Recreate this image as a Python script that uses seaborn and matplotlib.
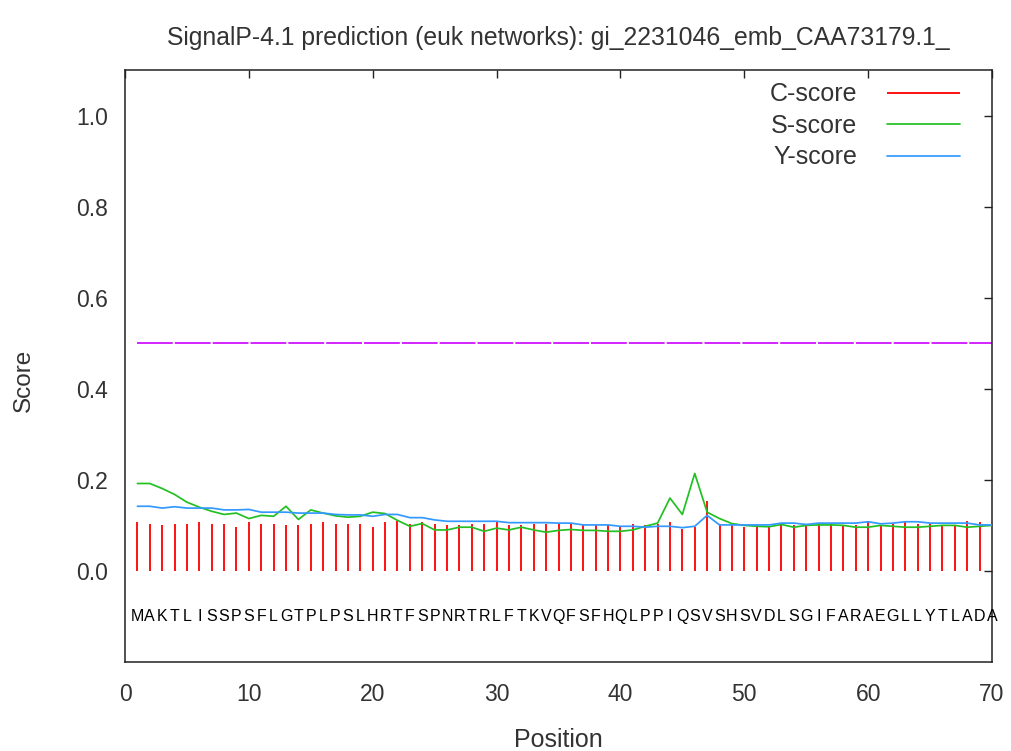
import matplotlib
matplotlib.use("Agg")
import matplotlib.pyplot as plt
import seaborn as sns
import pandas as pd
import numpy as np
from matplotlib import font_manager

# ---------------- data ----------------
sequence = list("MAKTLISSPSFLGTPLPSLHRTFSPNRTRLFTKVQFSFHQLPPIQSVSHSVDLSGIFARAEGLLYTLADA")
positions = list(range(1, 71))

c_score = [0.107, 0.103, 0.100, 0.103, 0.103, 0.107, 0.103, 0.103, 0.096, 0.107,
           0.103, 0.103, 0.100, 0.100, 0.103, 0.107, 0.103, 0.103, 0.103, 0.096,
           0.107, 0.110, 0.103, 0.107, 0.103, 0.100, 0.100, 0.103, 0.103, 0.110,
           0.100, 0.100, 0.103, 0.103, 0.103, 0.103, 0.100, 0.100, 0.100, 0.096,
           0.103, 0.100, 0.103, 0.107, 0.093, 0.096, 0.153, 0.103, 0.100, 0.096,
           0.100, 0.096, 0.103, 0.100, 0.100, 0.103, 0.103, 0.100, 0.100, 0.107,
           0.100, 0.103, 0.107, 0.103, 0.103, 0.100, 0.100, 0.110, 0.107]

s_score = [0.192, 0.192, 0.181, 0.168, 0.151, 0.140, 0.131, 0.124, 0.127, 0.115,
           0.122, 0.120, 0.142, 0.113, 0.134, 0.127, 0.121, 0.118, 0.120, 0.129,
           0.126, 0.111, 0.098, 0.104, 0.090, 0.090, 0.096, 0.096, 0.087, 0.094,
           0.090, 0.096, 0.090, 0.085, 0.089, 0.091, 0.089, 0.089, 0.087, 0.087,
           0.090, 0.098, 0.105, 0.160, 0.124, 0.214, 0.129, 0.115, 0.104, 0.100,
           0.098, 0.097, 0.102, 0.096, 0.100, 0.101, 0.101, 0.100, 0.096, 0.096,
           0.100, 0.098, 0.096, 0.096, 0.098, 0.100, 0.100, 0.096, 0.098, 0.100]

y_score = [0.142, 0.142, 0.138, 0.141, 0.138, 0.138, 0.138, 0.134, 0.134, 0.135,
           0.129, 0.129, 0.129, 0.127, 0.127, 0.127, 0.124, 0.123, 0.123, 0.120,
           0.124, 0.124, 0.117, 0.117, 0.112, 0.109, 0.109, 0.109, 0.109, 0.109,
           0.106, 0.106, 0.106, 0.106, 0.105, 0.105, 0.101, 0.101, 0.101, 0.098,
           0.098, 0.096, 0.098, 0.098, 0.095, 0.098, 0.122, 0.101, 0.101, 0.101,
           0.101, 0.101, 0.105, 0.105, 0.102, 0.105, 0.105, 0.105, 0.105, 0.108,
           0.1035, 0.105, 0.108, 0.108, 0.105, 0.105, 0.105, 0.105, 0.101, 0.101]

threshold = 0.5
x_ticks = [0, 10, 20, 30, 40, 50, 60, 70]
y_ticks = [0.0, 0.2, 0.4, 0.6, 0.8, 1.0]
title = "SignalP-4.1 prediction (euk networks): gi_2231046_emb_CAA73179.1_"

# ---------------- style ----------------
sns.set_style("white")
plt.rcParams['font.family'] = ['Liberation Sans', 'DejaVu Sans']

installed = {f.name for f in font_manager.fontManager.ttflist}
narrow = 'Liberation Sans Narrow' if 'Liberation Sans Narrow' in installed else 'Liberation Sans'

RED = "#ff1010"
GREEN = "#22c022"
BLUE = "#3399ff"
MAGENTA = "#cc00ff"
TXT = "#333333"

fig = plt.figure(figsize=(10.11, 7.51), dpi=100)
ax = fig.add_axes([125/1011, 89/751, 867/1011, 592/751])

df = pd.DataFrame({"Position": positions, "S": s_score, "Y": y_score})

# C-score bars
ax.vlines(positions[:len(c_score)], 0, c_score, color=RED, lw=1.4, label="C-score", zorder=2)
# S and Y lines
sns.lineplot(data=df, x="Position", y="S", ax=ax, color=GREEN, lw=1.25, label="S-score", zorder=3)
sns.lineplot(data=df, x="Position", y="Y", ax=ax, color=BLUE, lw=1.25, label="Y-score", zorder=4)
# threshold
ax.plot([positions[0], positions[-1]], [threshold, threshold], color=MAGENTA, lw=1.2,
        dashes=(21.5, 1.2), zorder=1)

# sequence letters
for p, aa in zip(positions, sequence):
    ax.text(p, -0.1, aa, ha="center", va="center", fontsize=11.5, color="black",
            family=[narrow, 'Liberation Sans', 'DejaVu Sans'])

ax.set_xlim(0, 70)
ax.set_ylim(-0.2, 1.1)
ax.set_xticks(x_ticks)
ax.set_yticks(y_ticks)
ax.set_xticklabels([str(t) for t in x_ticks])
ax.set_yticklabels([f"{t:.1f}" for t in y_ticks])
ax.tick_params(direction="in", length=6, width=1.0, colors="#222222", labelsize=16.5,
               top=True, right=True, labelcolor=TXT)
ax.tick_params(axis="x", pad=15)
ax.tick_params(axis="y", pad=12)
for s in ax.spines.values():
    s.set_color("#222222")
    s.set_linewidth(1.1)

ax.set_xlabel("Position", fontsize=18, color=TXT)
ax.set_ylabel("Score", fontsize=17.5, color=TXT)
ax.xaxis.set_label_coords(0.5, -0.111)
ax.yaxis.set_label_coords(-0.104, 0.476)

fig.text((125 + 992) / 2 / 1011, 1 - 38 / 751, title, ha="center", va="center",
         fontsize=17.8, color=TXT)

leg = ax.legend(loc="upper right", bbox_to_anchor=(0.963, 0.979), markerfirst=False,
                frameon=False, fontsize=18, handlelength=2.92, handletextpad=1.2,
                labelspacing=0.3, borderaxespad=0.0, borderpad=0.0)
for t in leg.get_texts():
    t.set_color(TXT)
ax.grid(False)

fig.savefig("out.png", dpi=100)
